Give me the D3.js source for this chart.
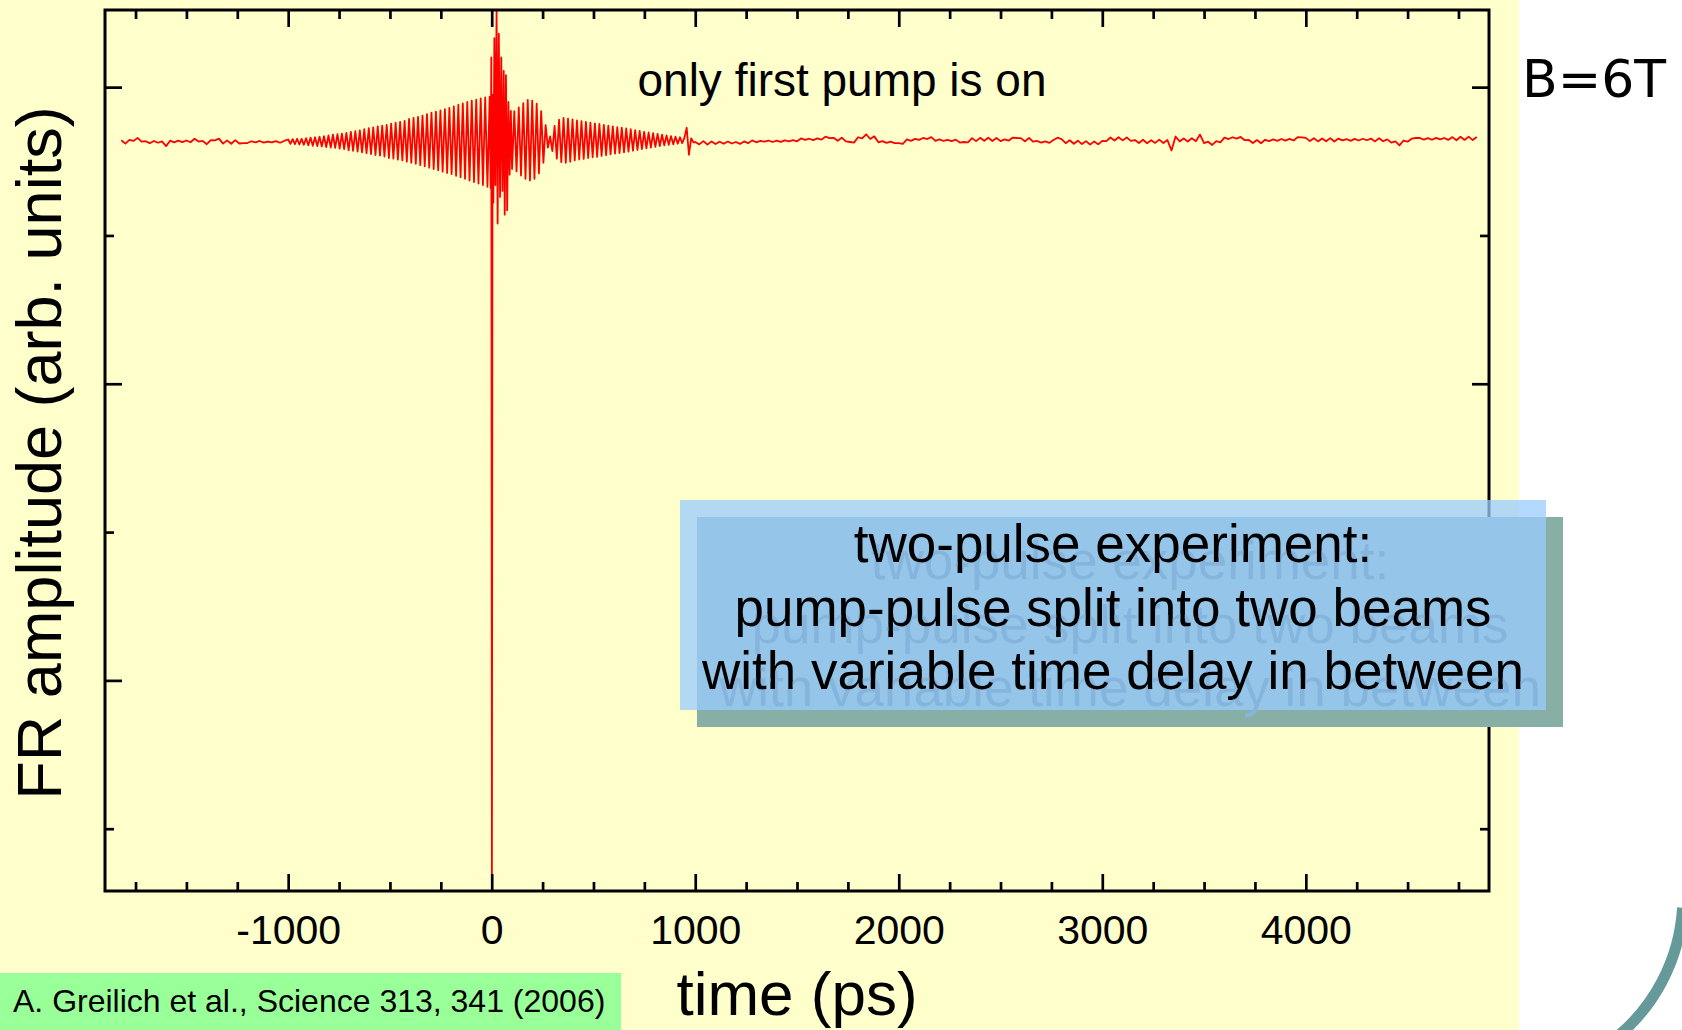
<!DOCTYPE html>
<html>
<head>
<meta charset="utf-8">
<script src="https://cdn.jsdelivr.net/npm/d3@7"></script>
<style>
  body { margin: 0; background: #fff; }
  svg { display: block; }
</style>
</head>
<body>
<div class="svg"></div>
<script>
//Data//
var xMajorTicks = [-1000, 0, 1000, 2000, 3000, 4000];
var xMinorStep = 250;
var yMajorTicks = [-2, 0, 2];
var yMinorTicks = [-3, -1, 1];

// FR level with no spin signal (arb. units); trace values below are offsets in 1/1000 of it
var restLevel = 1.64;

// noise before the pump-induced precession, one sample every 20 ps
var noiseStep = 20;
var noiseBeforeStart = -1820;
var noiseBeforeValues = [
  2, -21, 4, -3, 18, -7, -5, -18, -3, -15, -6, -38, -1, -13, -1, -11, 0, -12, 12, -7,
  -2, -25, 3, 1, 13, -21, 1, -22, 3, -20, -18, -17, -5, -12, -3, -14, -7, -13, -4, -15,
  -3
];

// precession extrema (half period of ~11 ps)
var precessionStep = 11;
var precessionBeforeStart = -1000;
var precessionBeforeValues = [
  7, -23, 9, -25, 12, -27, 11, -29, 15,
  -32, 20, -35, 22, -37, 26, -40, 29, -44,
  34, -47, 39, -50, 43, -55, 47, -58, 52,
  -66, 58, -70, 63, -75, 69, -80, 76, -86,
  84, -92, 89, -98, 95, -102, 100, -108, 106,
  -118, 114, -122, 120, -129, 126, -134, 133, -142,
  146, -150, 153, -157, 160, -166, 168, -174, 178,
  -183, 188, -192, 195, -201, 203, -210, 212, -218,
  220, -226, 230, -238, 241, -247, 250, -258, 260,
  -270, 268, -280, 276, -290, 284, -300, 290, -312,
  296
];

// pump pulse itself
var pulseTimes  = [-5, -2, 1, 4, 8, 13, 18, 24, 29, 35, 41, 47, 53, 59, 64, 70, 76, 82, 88, 94];
var pulseValues = [-320, 560, -5080, 310, -420, 690, -300, 880, -560, 720,
                   -380, 560, -340, 470, -500, 440, -470, 260, -230, 200];

var precessionAfterStart = 100;
var precessionAfterValues = [
  -192, 198, -208, 224, -236, 252, -258, 274, -270, 268,
  -258, 248, -222, 198, -150, 104, -48, 28, -72, 98,
  -122, 140, -146, 152, -150, 147, -143, 142, -134, 135,
  -128, 130, -124, 125, -118, 120, -113, 116, -110, 112,
  -104, 105, -99, 100, -94, 95, -89, 90, -85, 86,
  -80, 81, -75, 76, -69, 70, -64, 65, -58, 59,
  -53, 54, -48, 49, -43, 44, -38, 39, -33, 34,
  -29, 30, -25, 26, -21, 22, -18, 19, 86, -96,
  15, -13
];

var noiseAfterStart = 1000;
var noiseAfterValues = [
  -10, -26, -4, -28, -6, -24, -8, -22, -7, -20, -10, -23, -6, -18, 1, -12, -2, -8, 0, -10,
  -1, -9, 1, -6, 2, -5, 14, 4, 12, 3, 14, 6, 26, 16, 18, -2, 19, -6, -10, -14,
  22, 14, 42, 10, 28, -12, -4, -16, -7, -18, -17, -22, 8, -2, 11, 4, 17, 10, 23, -2,
  8, -3, 5, -4, 6, -14, -10, -12, 16, -4, 18, -2, 19, -3, 17, -4, 8, -1, 20, 17,
  16, -6, 17, -8, -3, -14, -6, -16, 4, 19, 10, -18, 2, -22, -1, -24, -4, -28, -6, -26,
  -2, -4, 20, 0, 22, 1, 21, -2, 3, -17, 5, -18, 2, -16, 6, -17, 3, -67, 27, -6,
  14, -7, 15, -5, 40, -18, -8, -30, -4, -12, 20, 10, 22, 13, 24, 2, 4, -17, 3, -18,
  5, -4, 8, -2, 10, -1, 11, 0, 23, 21, 18, -4, 15, -6, 14, -5, 16, -7, 13, 1,
  10, -2, 11, 0, 12, 2, 13, -6, 15, -5, 8, -14, -6, -33, 0, -8, 12, 17, 17, 6,
  16, 5, 18, 8, 17, 4, 23, 2, 25, 4, 26, 3, 24
];


//Config//
var width = 1682,
    height = 1030,
    plot = { left : 105, right : 1489, top : 10, bottom : 891 },
    majorTick = 17,
    minorTick = 9,
    textFont = "'Liberation Sans', Arial, sans-serif";


//Build trace
function segment(start, step, values) {
  return values.map(function (d, i) {
    return { t : start + i * step, v : restLevel + d / 1000 };
  });
}

var trace = [].concat(
  segment(noiseBeforeStart, noiseStep, noiseBeforeValues),
  segment(precessionBeforeStart, precessionStep, precessionBeforeValues),
  pulseTimes.map(function (t, i) {
    return { t : t, v : restLevel + pulseValues[i] / 1000 };
  }),
  segment(precessionAfterStart, precessionStep, precessionAfterValues),
  segment(noiseAfterStart, noiseStep, noiseAfterValues)
);


//Instance element
var svg = d3.select(".svg")
  .append("svg")
  .attr("width", width)
  .attr("height", height);

var defs = svg.append("defs");

svg.append("rect")
  .attr("width", width)
  .attr("height", height)
  .style("fill", "#ffffff");

svg.append("rect")
  .attr("width", 1519)
  .attr("height", height)
  .style("fill", "#ffffcc");

// slide decoration bottom right (circle centre 1501,895 r 182)
svg.append("path")
  .attr("d", "M1682.6,907.7 A182,182 0 0 1 1614,1039.4")
  .style("fill", "none")
  .style("stroke", "#669999")
  .style("stroke-width", 11);


//Scales
var x = d3.scaleLinear()
  .domain([-1900, 4900])
  .range([plot.left, plot.right]);

var y = d3.scaleLinear()
  .domain([-3.42, 2.52])
  .range([plot.bottom, plot.top]);

var xMinorTicks = d3.range(-1750, 4900, xMinorStep).filter(function (d) {
  return xMajorTicks.indexOf(d) < 0;
});


//Trace
defs.append("clipPath")
  .attr("id", "plotClip")
  .append("rect")
  .attr("x", plot.left)
  .attr("y", plot.top)
  .attr("width", plot.right - plot.left)
  .attr("height", plot.bottom - plot.top);

var line = d3.line()
  .x(function (d) { return x(d.t); })
  .y(function (d) { return y(d.v); });

svg.append("path")
  .datum(trace)
  .attr("clip-path", "url(#plotClip)")
  .attr("d", line)
  .style("fill", "none")
  .style("stroke", "#ff0000")
  .style("stroke-width", 1.8)
  .style("stroke-linejoin", "round");


//Axes
function styleAxis(g) {
  g.select(".domain").remove();
  g.selectAll(".tick line")
    .attr("stroke", "#000")
    .attr("stroke-width", 2.7);
  g.attr("font-family", textFont)
    .attr("font-size", 41);
  g.selectAll(".tick text").attr("fill", "#000");
}

function noLabel() { return ""; }

svg.append("g")
  .attr("transform", "translate(0," + plot.bottom + ")")
  .call(d3.axisBottom(x).tickValues(xMajorTicks).tickSize(-majorTick).tickPadding(24)
    .tickFormat(function (d) { return String(d); }))
  .call(styleAxis);

svg.append("g")
  .attr("transform", "translate(0," + plot.bottom + ")")
  .call(d3.axisBottom(x).tickValues(xMinorTicks).tickSize(-minorTick).tickFormat(noLabel))
  .call(styleAxis);

svg.append("g")
  .attr("transform", "translate(0," + plot.top + ")")
  .call(d3.axisTop(x).tickValues(xMajorTicks).tickSize(-majorTick).tickFormat(noLabel))
  .call(styleAxis);

svg.append("g")
  .attr("transform", "translate(0," + plot.top + ")")
  .call(d3.axisTop(x).tickValues(xMinorTicks).tickSize(-minorTick).tickFormat(noLabel))
  .call(styleAxis);

svg.append("g")
  .attr("transform", "translate(" + plot.left + ",0)")
  .call(d3.axisLeft(y).tickValues(yMajorTicks).tickSize(-majorTick).tickFormat(noLabel))
  .call(styleAxis);

svg.append("g")
  .attr("transform", "translate(" + plot.left + ",0)")
  .call(d3.axisLeft(y).tickValues(yMinorTicks).tickSize(-minorTick).tickFormat(noLabel))
  .call(styleAxis);

svg.append("g")
  .attr("transform", "translate(" + plot.right + ",0)")
  .call(d3.axisRight(y).tickValues(yMajorTicks).tickSize(-majorTick).tickFormat(noLabel))
  .call(styleAxis);

svg.append("g")
  .attr("transform", "translate(" + plot.right + ",0)")
  .call(d3.axisRight(y).tickValues(yMinorTicks).tickSize(-minorTick).tickFormat(noLabel))
  .call(styleAxis);

// frame
svg.append("rect")
  .attr("x", plot.left)
  .attr("y", plot.top)
  .attr("width", plot.right - plot.left)
  .attr("height", plot.bottom - plot.top)
  .style("fill", "none")
  .style("stroke", "#000")
  .style("stroke-width", 3);


//Titles
svg.append("text")
  .attr("x", (plot.left + plot.right) / 2)
  .attr("y", 1015)
  .style("text-anchor", "middle")
  .style("font-family", textFont)
  .style("font-size", "62px")
  .text("time (ps)");

svg.append("text")
  .attr("transform", "translate(61,453) rotate(-90)")
  .style("text-anchor", "middle")
  .style("font-family", textFont)
  .style("font-size", "63px")
  .text("FR amplitude (arb. units)");

svg.append("text")
  .attr("x", 842)
  .attr("y", 96)
  .style("text-anchor", "middle")
  .style("font-family", textFont)
  .style("font-size", "46px")
  .text("only first pump is on");

svg.append("text")
  .attr("x", 1522)
  .attr("y", 97)
  .style("font-family", "'DejaVu Sans', sans-serif")
  .style("font-size", "52px")
  .text("B=6T");

// reference
svg.append("rect")
  .attr("x", 0)
  .attr("y", 973)
  .attr("width", 621)
  .attr("height", 57)
  .style("fill", "#99ff99");

svg.append("text")
  .attr("x", 13)
  .attr("y", 1012)
  .style("font-family", textFont)
  .style("font-size", "32px")
  .text("A. Greilich et al., Science 313, 341 (2006)");


//Note box with shadow
var noteLines = ["two-pulse experiment:",
                 "pump-pulse split into two beams",
                 "with variable time delay in between"];
var note = { x : 680, y : 500, w : 866, h : 210, shift : 17, firstBase : 562, lineStep : 63.5 };

// text shadow seen through the translucent box
var ghost = defs.append("filter")
  .attr("id", "noteShadow")
  .attr("x", "-10%").attr("y", "-10%")
  .attr("width", "130%").attr("height", "150%");
ghost.append("feOffset")
  .attr("in", "SourceAlpha")
  .attr("dx", note.shift).attr("dy", note.shift)
  .attr("result", "off");
ghost.append("feFlood")
  .attr("flood-color", "#85b5dd");
ghost.append("feComposite")
  .attr("in2", "off")
  .attr("operator", "in")
  .attr("result", "ghost");
var merge = ghost.append("feMerge");
merge.append("feMergeNode").attr("in", "ghost");
merge.append("feMergeNode").attr("in", "SourceGraphic");

svg.append("rect")
  .attr("x", note.x + note.shift)
  .attr("y", note.y + note.shift)
  .attr("width", note.w)
  .attr("height", note.h)
  .style("fill", "#88afa5");

svg.append("rect")
  .attr("x", note.x)
  .attr("y", note.y)
  .attr("width", note.w)
  .attr("height", note.h)
  .style("fill", "#99ccff")
  .style("fill-opacity", 0.75);

svg.append("g")
  .attr("filter", "url(#noteShadow)")
  .selectAll(".noteLine")
  .data(noteLines)
  .enter()
  .append("text")
  .classed("noteLine", true)
  .attr("x", note.x + note.w / 2)
  .attr("y", function (d, i) { return note.firstBase + i * note.lineStep; })
  .style("text-anchor", "middle")
  .style("font-family", textFont)
  .style("font-size", "53px")
  .style("fill", "#000")
  .text(function (d) { return d; });
</script>
</body>
</html>
